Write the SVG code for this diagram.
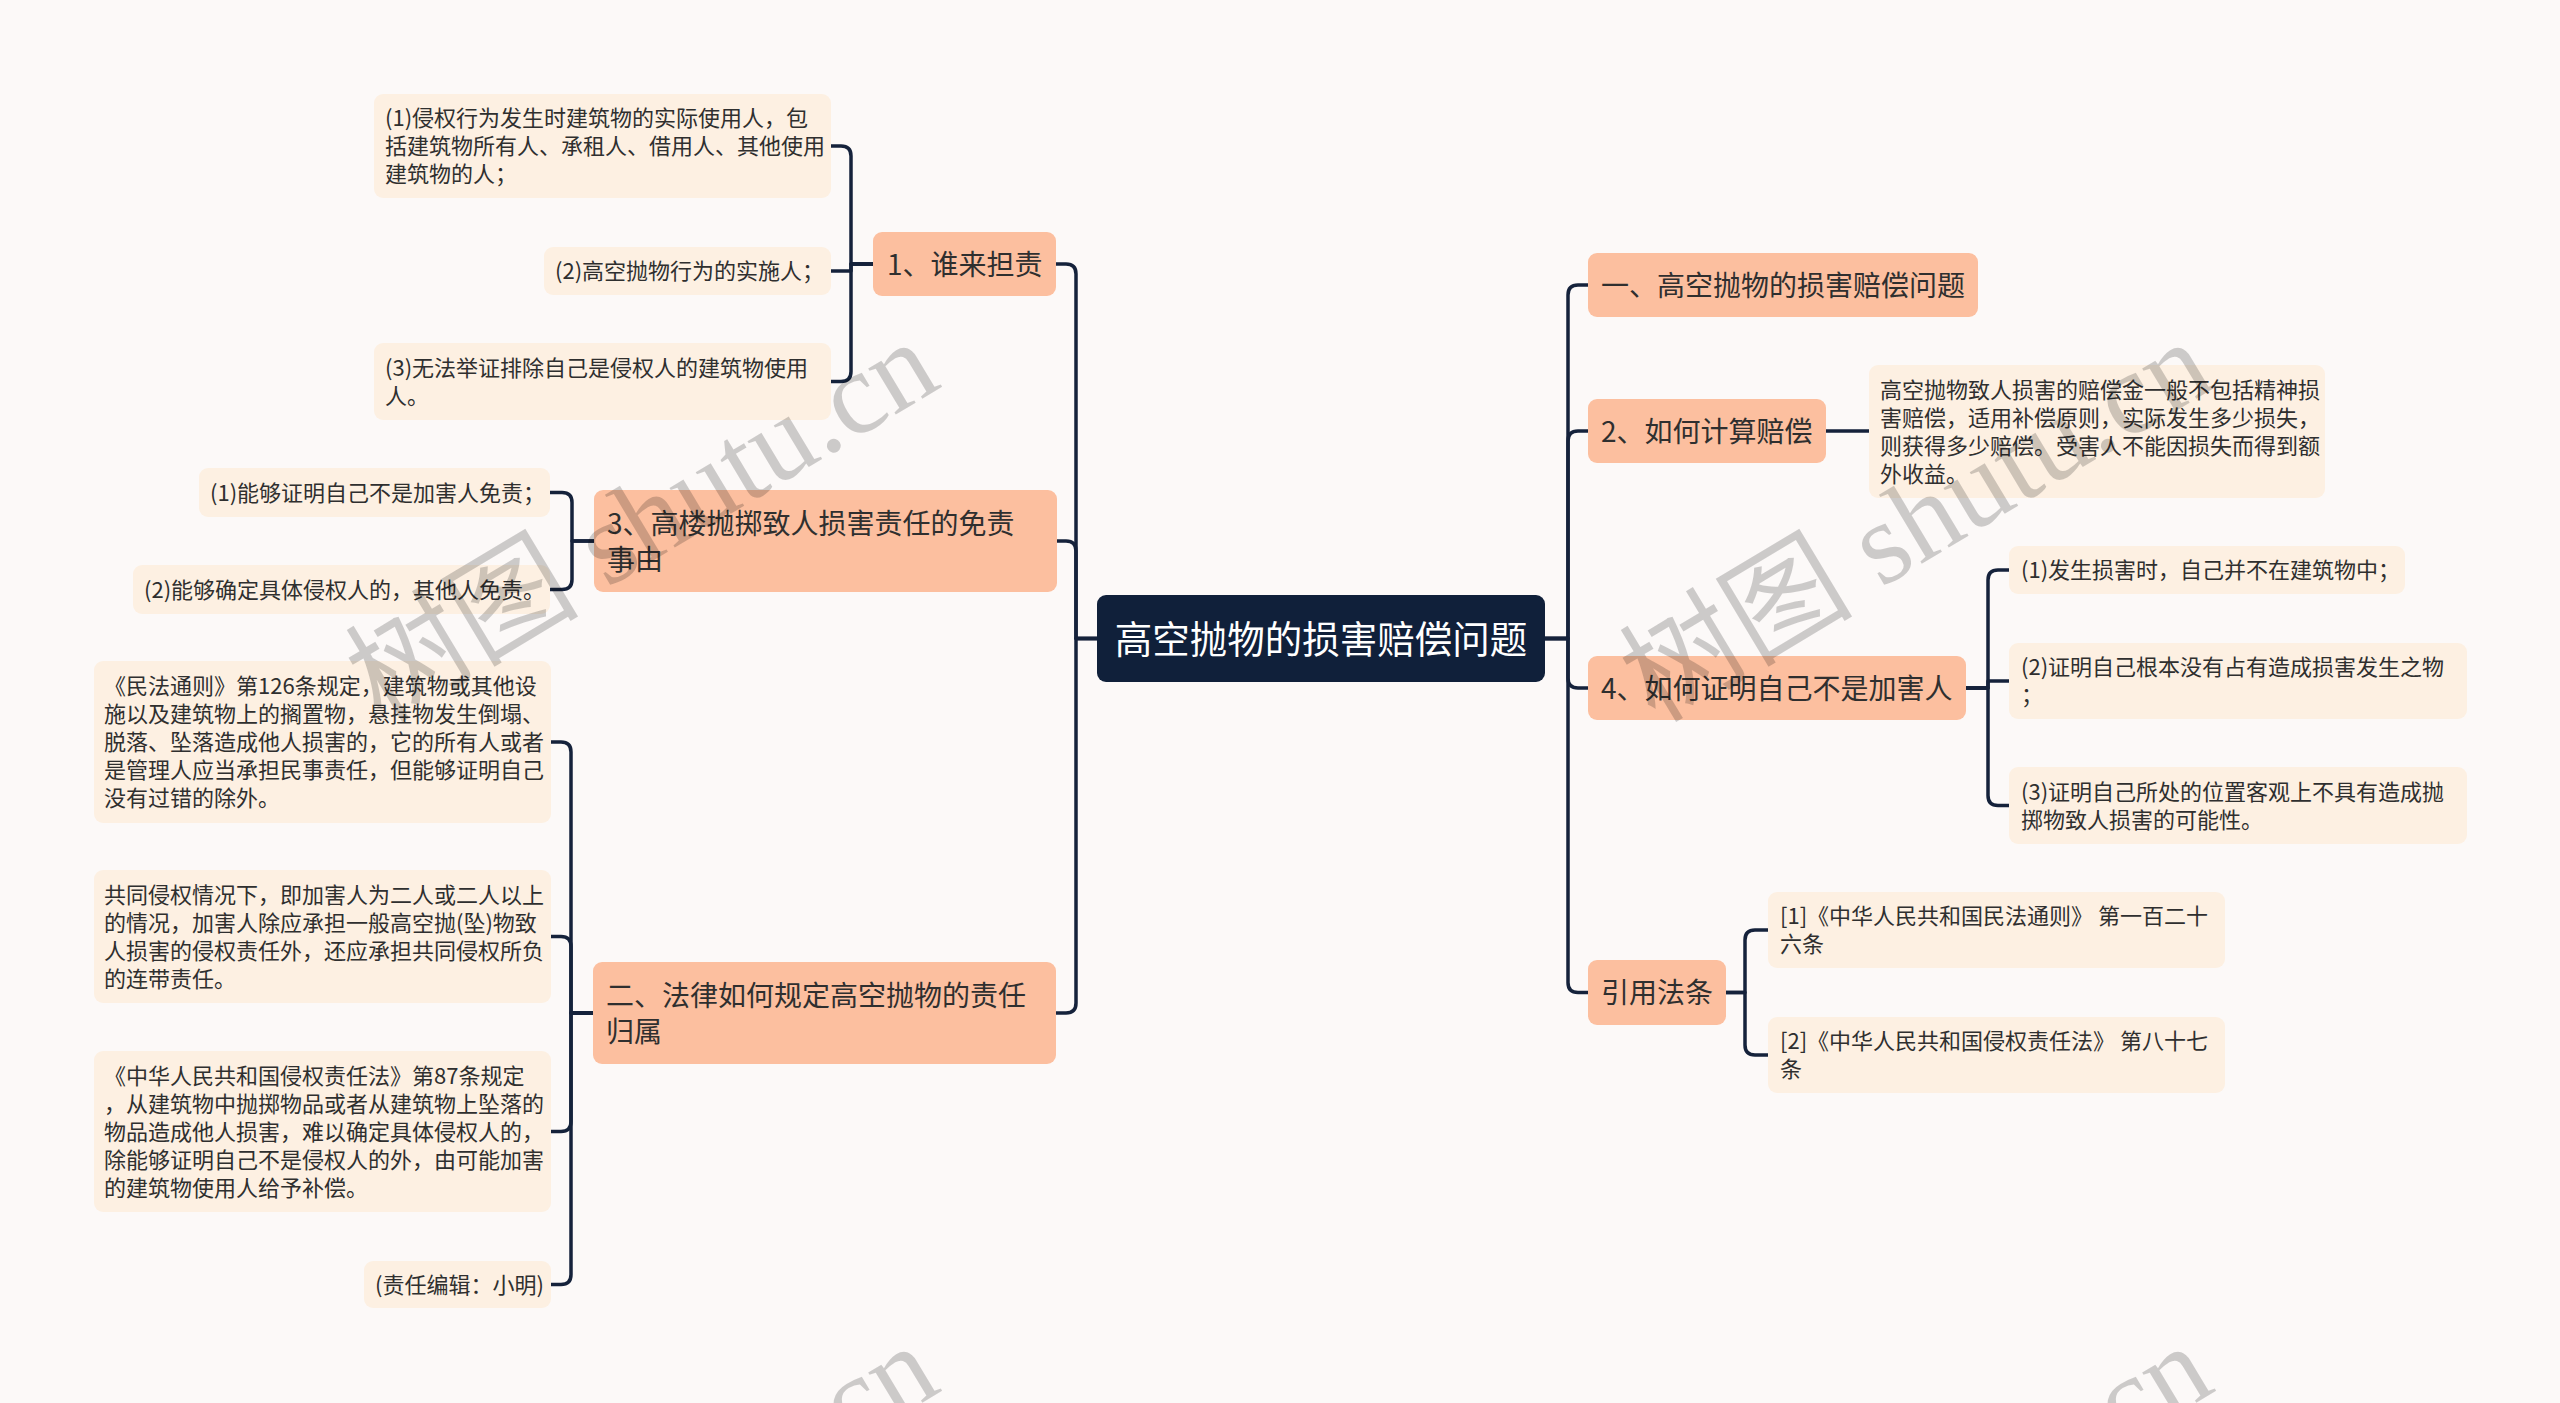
<svg xmlns="http://www.w3.org/2000/svg" width="2560" height="1403" viewBox="0 0 2560 1403">
<style>
.bg{fill:#fcf9f8}
.root{fill:#10203a}
.main{fill:#fcbf9f}
.leaf{fill:#fdf0e2}
.conn{fill:none;stroke:#15223b;stroke-width:3.5;stroke-linecap:round;stroke-linejoin:round}
text{font-family:"Noto Sans CJK SC","Noto Sans",sans-serif;fill:#2f2f2f}
.ts{font-size:22px}
.tm{font-size:28px}
.tr{font-size:37.5px;fill:#ffffff}
.wm{font-family:"Liberation Serif","Noto Sans CJK SC",serif;font-size:117px;fill:#000;fill-opacity:0.19}
</style>
<rect class="bg" x="0" y="0" width="2560" height="1403"/>

<g id="connectors">
<path class="conn" d="M1097 638.5 H1076 V274 Q1076 264 1066 264 H1056"/>
<path class="conn" d="M1097 638.5 H1076 V551 Q1076 541 1066 541 H1057"/>
<path class="conn" d="M1097 638.5 H1076 V1003 Q1076 1013 1066 1013 H1056"/>
<path class="conn" d="M1545 638.5 H1568 V295 Q1568 285 1578 285 H1588"/>
<path class="conn" d="M1545 638.5 H1568 V441 Q1568 431 1578 431 H1588"/>
<path class="conn" d="M1545 638.5 H1568 V678 Q1568 688 1578 688 H1588"/>
<path class="conn" d="M1545 638.5 H1568 V982.5 Q1568 992.5 1578 992.5 H1588"/>
<path class="conn" d="M873 264 H851 V156 Q851 146 841 146 H831"/>
<path class="conn" d="M873 264 H851 V271 H831"/>
<path class="conn" d="M873 264 H851 V371.5 Q851 381.5 841 381.5 H831"/>
<path class="conn" d="M594 541 H572 V502.5 Q572 492.5 562 492.5 H550"/>
<path class="conn" d="M594 541 H572 V579.5 Q572 589.5 562 589.5 H550"/>
<path class="conn" d="M593 1013 H571 V752 Q571 742 561 742 H551"/>
<path class="conn" d="M593 1013 H571 V946.5 Q571 936.5 561 936.5 H551"/>
<path class="conn" d="M593 1013 H571 V1121.5 Q571 1131.5 561 1131.5 H551"/>
<path class="conn" d="M593 1013 H571 V1274.5 Q571 1284.5 561 1284.5 H551"/>
<path class="conn" d="M1826 431 H1869"/>
<path class="conn" d="M1966 688 H1988 V580 Q1988 570 1998 570 H2009"/>
<path class="conn" d="M1966 688 H1988 V681 H2009"/>
<path class="conn" d="M1966 688 H1988 V795.5 Q1988 805.5 1998 805.5 H2009"/>
<path class="conn" d="M1726 992.5 H1745 V940 Q1745 930 1755 930 H1768"/>
<path class="conn" d="M1726 992.5 H1745 V1045 Q1745 1055 1755 1055 H1768"/>
</g>

<g id="root">
<rect class="root" x="1097" y="595" width="448" height="87" rx="9"/>
<text class="tr" x="1321" y="652.5" text-anchor="middle">高空抛物的损害赔偿问题</text>
</g>

<g id="n1">
<rect class="main" x="873" y="232" width="183" height="64" rx="9"/>
<text class="tm" x="887" y="274.6">1、谁来担责</text>
</g>
<g id="n1a">
<rect class="leaf" x="374" y="94" width="457" height="104" rx="9"/>
<text class="ts" x="385" y="126.4">(1)侵权行为发生时建筑物的实际使用人，包</text>
<text class="ts" x="385" y="154.4">括建筑物所有人、承租人、借用人、其他使用</text>
<text class="ts" x="385" y="182.4">建筑物的人；</text>
</g>
<g id="n1b">
<rect class="leaf" x="544" y="247" width="287" height="48" rx="9"/>
<text class="ts" x="555" y="279.4">(2)高空抛物行为的实施人；</text>
</g>
<g id="n1c">
<rect class="leaf" x="374" y="343" width="457" height="77" rx="9"/>
<text class="ts" x="385" y="376">(3)无法举证排除自己是侵权人的建筑物使用</text>
<text class="ts" x="385" y="404">人。</text>
</g>

<g id="n3">
<rect class="main" x="594" y="490" width="463" height="102" rx="9"/>
<text class="tm" x="607" y="533.6">3、高楼抛掷致人损害责任的免责</text>
<text class="tm" x="607" y="569.6">事由</text>
</g>
<g id="n3a">
<rect class="leaf" x="199" y="468" width="351" height="49" rx="9"/>
<text class="ts" x="210" y="501">(1)能够证明自己不是加害人免责；</text>
</g>
<g id="n3b">
<rect class="leaf" x="133" y="565" width="417" height="49" rx="9"/>
<text class="ts" x="144" y="598">(2)能够确定具体侵权人的，其他人免责。</text>
</g>

<g id="n2">
<rect class="main" x="593" y="962" width="463" height="102" rx="9"/>
<text class="tm" x="606" y="1005.6">二、法律如何规定高空抛物的责任</text>
<text class="tm" x="606" y="1041.6">归属</text>
</g>
<g id="n2a">
<rect class="leaf" x="94" y="661" width="457" height="162" rx="9"/>
<text class="ts" x="104" y="694.4">《民法通则》第126条规定，建筑物或其他设</text>
<text class="ts" x="104" y="722.4">施以及建筑物上的搁置物，悬挂物发生倒塌、</text>
<text class="ts" x="104" y="750.4">脱落、坠落造成他人损害的，它的所有人或者</text>
<text class="ts" x="104" y="778.4">是管理人应当承担民事责任，但能够证明自己</text>
<text class="ts" x="104" y="806.4">没有过错的除外。</text>
</g>
<g id="n2b">
<rect class="leaf" x="94" y="870" width="457" height="133" rx="9"/>
<text class="ts" x="104" y="902.9">共同侵权情况下，即加害人为二人或二人以上</text>
<text class="ts" x="104" y="930.9">的情况，加害人除应承担一般高空抛(坠)物致</text>
<text class="ts" x="104" y="958.9">人损害的侵权责任外，还应承担共同侵权所负</text>
<text class="ts" x="104" y="986.9">的连带责任。</text>
</g>
<g id="n2c">
<rect class="leaf" x="94" y="1051" width="457" height="161" rx="9"/>
<text class="ts" x="104" y="1083.9">《中华人民共和国侵权责任法》第87条规定</text>
<text class="ts" x="104" y="1111.9">，从建筑物中抛掷物品或者从建筑物上坠落的</text>
<text class="ts" x="104" y="1139.9">物品造成他人损害，难以确定具体侵权人的，</text>
<text class="ts" x="104" y="1167.9">除能够证明自己不是侵权人的外，由可能加害</text>
<text class="ts" x="104" y="1195.9">的建筑物使用人给予补偿。</text>
</g>
<g id="n2d">
<rect class="leaf" x="364" y="1261" width="187" height="47" rx="9"/>
<text class="ts" x="375" y="1292.9">(责任编辑：小明)</text>
</g>

<g id="r1">
<rect class="main" x="1588" y="253" width="390" height="64" rx="9"/>
<text class="tm" x="1601" y="295.6">一、高空抛物的损害赔偿问题</text>
</g>
<g id="r2">
<rect class="main" x="1588" y="399" width="238" height="64" rx="9"/>
<text class="tm" x="1601" y="441.6">2、如何计算赔偿</text>
</g>
<g id="r2a">
<rect class="leaf" x="1869" y="365" width="456" height="133" rx="9"/>
<text class="ts" x="1880" y="397.9">高空抛物致人损害的赔偿金一般不包括精神损</text>
<text class="ts" x="1880" y="425.9">害赔偿，适用补偿原则，实际发生多少损失，</text>
<text class="ts" x="1880" y="453.9">则获得多少赔偿。受害人不能因损失而得到额</text>
<text class="ts" x="1880" y="481.9">外收益。</text>
</g>
<g id="r4">
<rect class="main" x="1588" y="656" width="378" height="64" rx="9"/>
<text class="tm" x="1601" y="698.6">4、如何证明自己不是加害人</text>
</g>
<g id="r4a">
<rect class="leaf" x="2009" y="546" width="396" height="48" rx="9"/>
<text class="ts" x="2021" y="578.4">(1)发生损害时，自己并不在建筑物中；</text>
</g>
<g id="r4b">
<rect class="leaf" x="2009" y="643" width="458" height="76" rx="9"/>
<text class="ts" x="2021" y="675.4">(2)证明自己根本没有占有造成损害发生之物</text>
<text class="ts" x="2021" y="703.4">；</text>
</g>
<g id="r4c">
<rect class="leaf" x="2009" y="767" width="458" height="77" rx="9"/>
<text class="ts" x="2021" y="799.9">(3)证明自己所处的位置客观上不具有造成抛</text>
<text class="ts" x="2021" y="827.9">掷物致人损害的可能性。</text>
</g>
<g id="r5">
<rect class="main" x="1588" y="960" width="138" height="65" rx="9"/>
<text class="tm" x="1601" y="1003.1">引用法条</text>
</g>
<g id="r5a">
<rect class="leaf" x="1768" y="892" width="457" height="76" rx="9"/>
<text class="ts" x="1780" y="924.4">[1]《中华人民共和国民法通则》 第一百二十</text>
<text class="ts" x="1780" y="952.4">六条</text>
</g>
<g id="r5b">
<rect class="leaf" x="1768" y="1017" width="457" height="76" rx="9"/>
<text class="ts" x="1780" y="1049.4">[2]《中华人民共和国侵权责任法》 第八十七</text>
<text class="ts" x="1780" y="1077.4">条</text>
</g>

<g id="watermark">
<text class="wm" x="381" y="724" transform="rotate(-31 381 724)">树图 shutu.cn</text>
<text class="wm" x="1655" y="724" transform="rotate(-31 1655 724)">树图 shutu.cn</text>
<text class="wm" x="381" y="1728" transform="rotate(-31 381 1728)">树图 shutu.cn</text>
<text class="wm" x="1655" y="1728" transform="rotate(-31 1655 1728)">树图 shutu.cn</text>
</g>
</svg>
